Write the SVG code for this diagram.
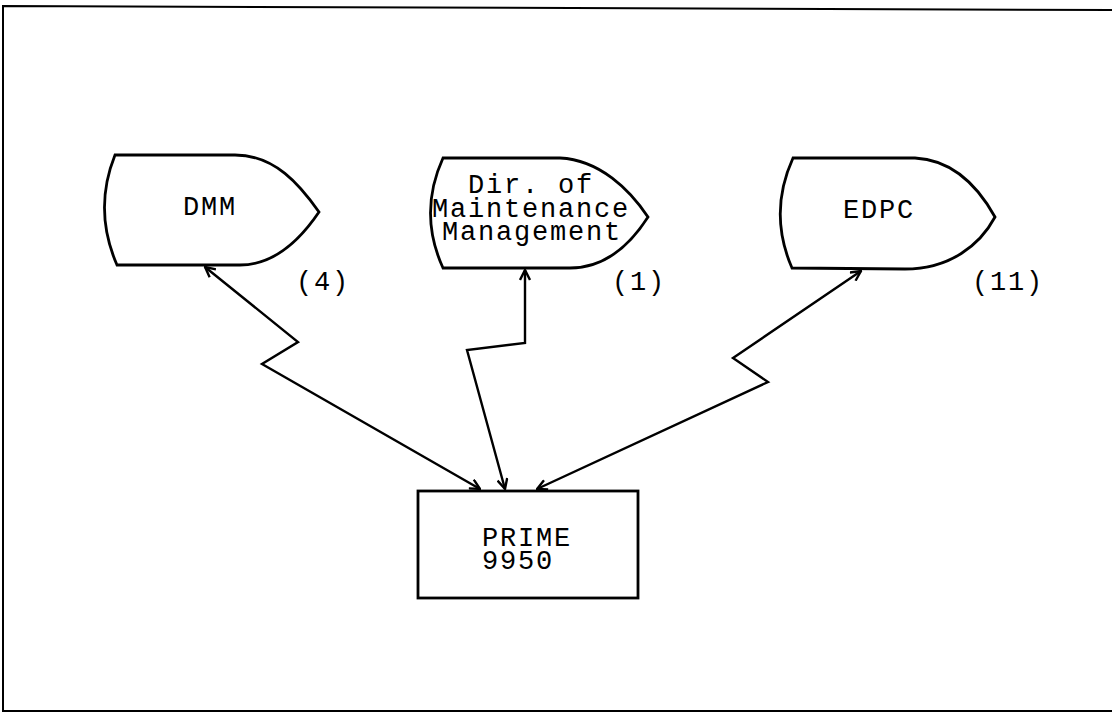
<svg xmlns="http://www.w3.org/2000/svg" width="1112" height="713" viewBox="0 0 1112 713">
<style>
.shape{fill:#fff;stroke:#000;stroke-width:2.8}
.t{font-family:"Liberation Mono","DejaVu Sans Mono",monospace;font-size:27px;letter-spacing:1.8px;fill:#000}
.c{fill:none;stroke:#000;stroke-width:2.4;stroke-linejoin:miter}
.frame{fill:none;stroke:#000;stroke-width:2}
</style>
<defs>
<marker id="ah" viewBox="0 0 12 12" refX="11" refY="6" markerWidth="12" markerHeight="12" markerUnits="userSpaceOnUse" orient="auto-start-reverse">
<path d="M1,1 L11,6 L1,11" fill="none" stroke="#000" stroke-width="2.4"/>
</marker>
</defs>
<rect width="1112" height="713" fill="#fff"/>
<path class="frame" d="M1112,10 L3,6 L3,711 L1112,711"/>
<g id="dmm">
<path class="shape" d="M115,155 L235,155 C275,155 300,185 319,212 C300,240 275,265 240,265 L117,265 Q93,210 115,155 Z"/>
<text class="t" x="210" y="215" text-anchor="middle">DMM</text>
<text class="t" x="296" y="290">(4)</text>
</g>
<g id="dmmgt">
<path class="shape" d="M443,158 L560,158 C600,160 630,190 648,217 C630,245 605,268 570,268 L443,268 Q418,213 443,158 Z"/>
<text class="t" x="531" y="193" text-anchor="middle">Dir. of</text>
<text class="t" x="531" y="217" text-anchor="middle">Maintenance</text>
<text class="t" x="532" y="240" text-anchor="middle">Management</text>
<text class="t" x="612" y="290">(1)</text>
</g>
<g id="edpc">
<path class="shape" d="M793,158 L915,158 C955,160 980,190 995,217 C980,245 950,269 905,269 L792,268 Q768,213 793,158 Z"/>
<text class="t" x="879" y="218" text-anchor="middle">EDPC</text>
<text class="t" x="972" y="290">(11)</text>
</g>
<g id="prime">
<rect class="shape" x="418" y="491" width="220" height="107"/>
<text class="t" x="482" y="546">PRIME</text>
<text class="t" x="482" y="569">9950</text>
</g>
<g id="connectors">
<polyline class="c" points="205,267 298,342 262,364 480,489" marker-start="url(#ah)" marker-end="url(#ah)"/>
<polyline class="c" points="525,270 525,343 467,350 505,489" marker-start="url(#ah)" marker-end="url(#ah)"/>
<polyline class="c" points="861,271 733,358 768,382 537,489" marker-start="url(#ah)" marker-end="url(#ah)"/>
</g>
</svg>
